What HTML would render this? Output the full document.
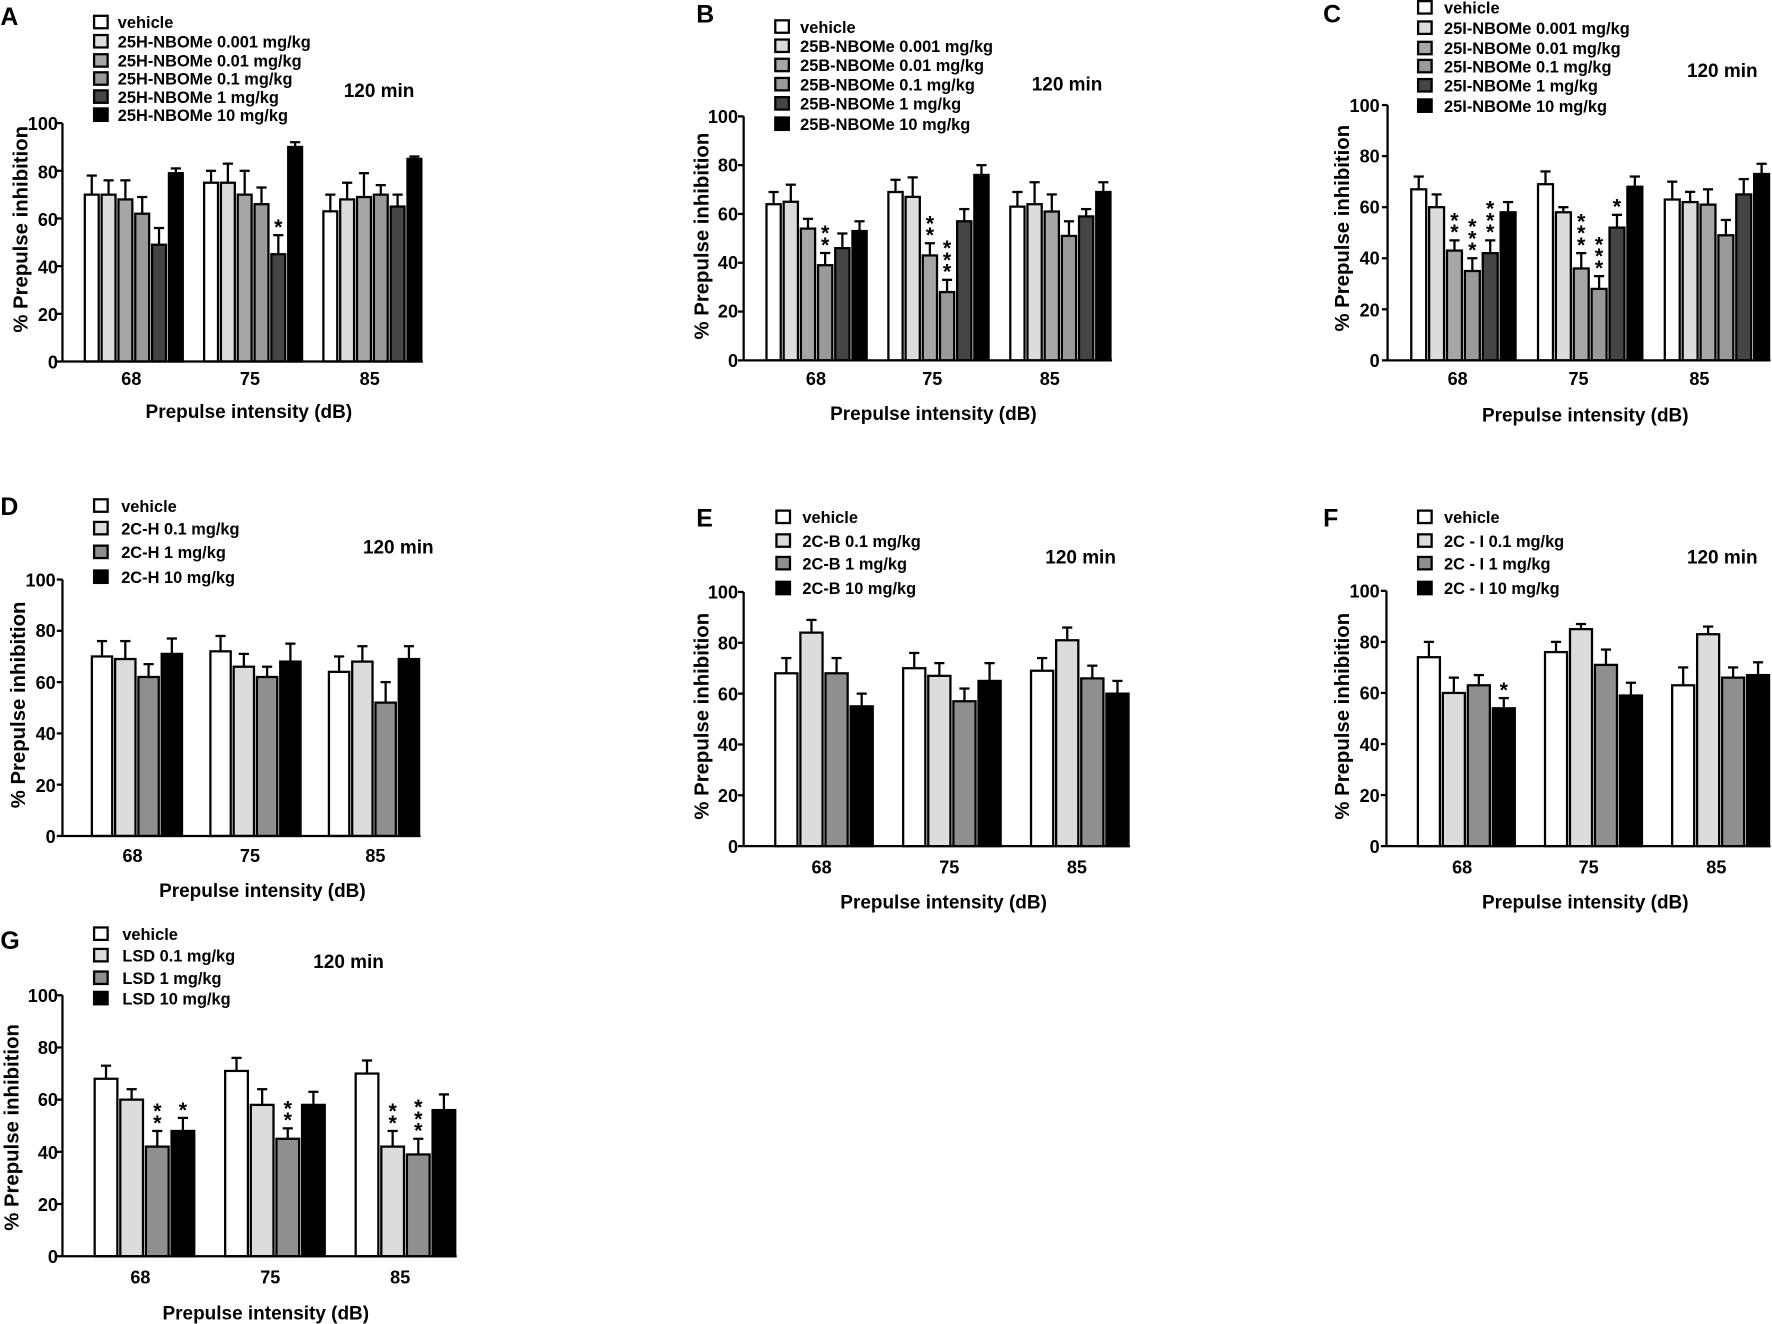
<!DOCTYPE html>
<html><head><meta charset="utf-8"><style>
html,body{margin:0;padding:0;background:#fff;}
svg{display:block;}
text{font-family:"Liberation Sans",Arial,sans-serif;font-weight:bold;fill:#000;}
.lg{font-size:14.5px;}
.tk{font-size:16px;}
.tl{font-size:16.8px;}
.yt{font-size:18px;}
.pl{font-size:22px;}
.st{font-size:19px;}
</style></head><body>
<svg id="s" width="1772" height="1324" viewBox="0 0 1568 1172" xmlns="http://www.w3.org/2000/svg">
<rect width="1568" height="1172" fill="#fff"/>
<g id="bars"></g>
<!-- Panel A -->
<text class="pl" x="0" y="22">A</text>
<g class="lg"><text x="104" y="25">vehicle</text><text x="104" y="42">25H-NBOMe 0.001 mg/kg</text><text x="104" y="59">25H-NBOMe 0.01 mg/kg</text><text x="104" y="75">25H-NBOMe 0.1 mg/kg</text><text x="104" y="91">25H-NBOMe 1 mg/kg</text><text x="104" y="107">25H-NBOMe 10 mg/kg</text></g>
<text class="tl" x="304" y="86">120 min</text>
<text class="yt" transform="translate(24,203) rotate(-90)" text-anchor="middle">% Prepulse inhibition</text>
<text class="tl" x="220" y="370" text-anchor="middle">Prepulse intensity (dB)</text>
<!-- Panel B -->
<text class="pl" x="616" y="20">B</text>
<g class="lg"><text x="708" y="29">vehicle</text><text x="708" y="46">25B-NBOMe 0.001 mg/kg</text><text x="708" y="63">25B-NBOMe 0.01 mg/kg</text><text x="708" y="80">25B-NBOMe 0.1 mg/kg</text><text x="708" y="97">25B-NBOMe 1 mg/kg</text><text x="708" y="115">25B-NBOMe 10 mg/kg</text></g>
<text class="tl" x="913" y="80">120 min</text>
<text class="yt" transform="translate(627,209) rotate(-90)" text-anchor="middle">% Prepulse inhibition</text>
<text class="tl" x="826" y="372" text-anchor="middle">Prepulse intensity (dB)</text>
<!-- Panel C -->
<text class="pl" x="1171" y="20">C</text>
<g class="lg"><text x="1278" y="12">vehicle</text><text x="1278" y="30">25I-NBOMe 0.001 mg/kg</text><text x="1278" y="48">25I-NBOMe 0.01 mg/kg</text><text x="1278" y="64">25I-NBOMe 0.1 mg/kg</text><text x="1278" y="81">25I-NBOMe 1 mg/kg</text><text x="1278" y="99">25I-NBOMe 10 mg/kg</text></g>
<text class="tl" x="1493" y="68">120 min</text>
<text class="yt" transform="translate(1194,202) rotate(-90)" text-anchor="middle">% Prepulse inhibition</text>
<text class="tl" x="1403" y="373" text-anchor="middle">Prepulse intensity (dB)</text>
<!-- Panel D -->
<text class="pl" x="0" y="456">D</text>
<g class="lg"><text x="107" y="453">vehicle</text><text x="107" y="473">2C-H 0.1 mg/kg</text><text x="107" y="494">2C-H 1 mg/kg</text><text x="107" y="516">2C-H 10 mg/kg</text></g>
<text class="tl" x="321" y="490">120 min</text>
<text class="yt" transform="translate(22,624) rotate(-90)" text-anchor="middle">% Prepulse inhibition</text>
<text class="tl" x="232" y="794" text-anchor="middle">Prepulse intensity (dB)</text>
<!-- Panel E -->
<text class="pl" x="616" y="466">E</text>
<g class="lg"><text x="710" y="463">vehicle</text><text x="710" y="484">2C-B 0.1 mg/kg</text><text x="710" y="504">2C-B 1 mg/kg</text><text x="710" y="526">2C-B 10 mg/kg</text></g>
<text class="tl" x="925" y="499">120 min</text>
<text class="yt" transform="translate(627,634) rotate(-90)" text-anchor="middle">% Prepulse inhibition</text>
<text class="tl" x="835" y="804" text-anchor="middle">Prepulse intensity (dB)</text>
<!-- Panel F -->
<text class="pl" x="1171" y="466">F</text>
<g class="lg"><text x="1278" y="463">vehicle</text><text x="1278" y="484">2C - I 0.1 mg/kg</text><text x="1278" y="504">2C - I 1 mg/kg</text><text x="1278" y="526">2C - I 10 mg/kg</text></g>
<text class="tl" x="1493" y="499">120 min</text>
<text class="yt" transform="translate(1194,634) rotate(-90)" text-anchor="middle">% Prepulse inhibition</text>
<text class="tl" x="1403" y="804" text-anchor="middle">Prepulse intensity (dB)</text>
<!-- Panel G -->
<text class="pl" x="0" y="840">G</text>
<g class="lg"><text x="108" y="832">vehicle</text><text x="108" y="851">LSD 0.1 mg/kg</text><text x="108" y="871">LSD 1 mg/kg</text><text x="108" y="889">LSD 10 mg/kg</text></g>
<text class="tl" x="277" y="857">120 min</text>
<text class="yt" transform="translate(16,998) rotate(-90)" text-anchor="middle">% Prepulse inhibition</text>
<text class="tl" x="235" y="1168" text-anchor="middle">Prepulse intensity (dB)</text>
<!-- tick labels -->
<g class="tk" text-anchor="end" id="ticks">
<text x="51" y="115">100</text><text x="51" y="158">80</text><text x="51" y="200">60</text><text x="51" y="242">40</text><text x="51" y="284">20</text><text x="51" y="326">0</text>
<text x="653" y="109">100</text><text x="653" y="152">80</text><text x="653" y="195">60</text><text x="653" y="238">40</text><text x="653" y="281">20</text><text x="653" y="325">0</text>
<text x="1221" y="99">100</text><text x="1221" y="144">80</text><text x="1221" y="189">60</text><text x="1221" y="234">40</text><text x="1221" y="280">20</text><text x="1221" y="325">0</text>
<text x="49" y="519">100</text><text x="49" y="564">80</text><text x="49" y="610">60</text><text x="49" y="655">40</text><text x="49" y="701">20</text><text x="49" y="746">0</text>
<text x="653" y="530">100</text><text x="653" y="575">80</text><text x="653" y="620">60</text><text x="653" y="665">40</text><text x="653" y="710">20</text><text x="653" y="755">0</text>
<text x="1221" y="529">100</text><text x="1221" y="574">80</text><text x="1221" y="619">60</text><text x="1221" y="665">40</text><text x="1221" y="710">20</text><text x="1221" y="755">0</text>
<text x="51" y="887">100</text><text x="51" y="933">80</text><text x="51" y="979">60</text><text x="51" y="1026">40</text><text x="51" y="1072">20</text><text x="51" y="1118">0</text>
</g>
<g class="tk" text-anchor="middle">
<text x="116" y="341">68</text><text x="221" y="341">75</text><text x="327" y="341">85</text>
<text x="722" y="341">68</text><text x="825" y="341">75</text><text x="929" y="341">85</text>
<text x="1290" y="341">68</text><text x="1397" y="341">75</text><text x="1504" y="341">85</text>
<text x="117" y="763">68</text><text x="221" y="763">75</text><text x="332" y="763">85</text>
<text x="727" y="773">68</text><text x="840" y="773">75</text><text x="953" y="773">85</text>
<text x="1294" y="773">68</text><text x="1406" y="773">75</text><text x="1519" y="773">85</text>
<text x="124" y="1136">68</text><text x="239" y="1136">75</text><text x="354" y="1136">85</text>
</g>
<g class="st" text-anchor="middle" id="stars"></g>
</svg>
<script>
var NS="http://www.w3.org/2000/svg";
var bars=document.getElementById('bars'), stars=document.getElementById('stars');
function el(t,a,p){var e=document.createElementNS(NS,t);for(var k in a)e.setAttribute(k,a[k]);(p||bars).appendChild(e);return e;}
var C6=['#fff','#dcdcdc','#a6a6a6','#999','#454545','#000'];
var C4=['#fff','#dcdcdc','#8f8f8f','#000'];
function panel(p){
  var n=p.d[0].length, span=p.xr-p.ax, gw=(n==6?0.28:0.26), gs=0.331, st=1-gw-2*gs;
  var slot=gw*span/n, bw=slot-2.6, sc=(p.y0-p.y100)/100, cols=n==6?C6:C4;
  for(var g=0;g<3;g++){
    var gx=p.ax+(st+g*gs)*span;
    for(var i=0;i<n;i++){
      var v=p.d[g][i], e=p.e[g][i], x=gx+i*slot+1.3, top=p.y0-v*sc, et=p.y0-e*sc, cx=x+bw/2;
      el('line',{x1:cx,y1:top,x2:cx,y2:et,stroke:'#000','stroke-width':2});
      el('line',{x1:cx-4.5,y1:et,x2:cx+4.5,y2:et,stroke:'#000','stroke-width':2});
      el('rect',{x:x,y:top,width:bw,height:p.y0-top,fill:cols[i],stroke:'#000','stroke-width':2});
      var s=(p.s&&p.s[g]&&p.s[g][i])||0;
      for(var k=0;k<s;k++){var t=el('text',{x:cx,y:et-1-k*10.5},stars);t.textContent='*';}
    }
  }
  el('line',{x1:p.ax,y1:p.y100,x2:p.ax,y2:p.y0,stroke:'#000','stroke-width':2});
  el('line',{x1:p.ax,y1:p.y0,x2:p.xr,y2:p.y0,stroke:'#000','stroke-width':2});
  for(var j=0;j<=5;j++){var yy=p.y0-(p.y0-p.y100)*j/5;el('line',{x1:p.ax-5,y1:yy,x2:p.ax,y2:yy,stroke:'#000','stroke-width':2});}
}
panel({ax:55,xr:374,y0:320,y100:109,
 d:[[70,70,68,62,49,79],[75,75,70,66,45,90],[63,68,69,70,65,85]],
 e:[[78,76,76,69,56,81],[80,83,80,73,53,92],[70,75,79,74,70,86]],
 s:[[],[0,0,0,0,1,0],[]]});
panel({ax:658,xr:984,y0:319,y100:103,
 d:[[64,65,54,39,46,53],[69,67,43,28,57,76],[63,64,61,51,59,69]],
 e:[[69,72,58,44,52,57],[74,75,48,33,62,80],[69,73,68,57,62,73]],
 s:[[0,0,0,2,0,0],[0,0,2,3,0,0],[]]});
panel({ax:1228,xr:1567,y0:319,y100:93,
 d:[[67,60,43,35,42,58],[69,58,36,28,52,68],[63,62,61,49,65,73]],
 e:[[72,65,47,40,47,62],[74,60,42,33,57,72],[70,66,67,55,71,77]],
 s:[[0,0,2,3,3,0],[0,0,3,3,1,0],[]]});
panel({ax:55,xr:372,y0:740,y100:513,
 d:[[70,69,62,71],[72,66,62,68],[64,68,52,69]],
 e:[[76,76,67,77],[78,71,66,75],[70,74,60,74]]});
panel({ax:658,xr:1000,y0:749,y100:524,
 d:[[68,84,68,55],[70,67,57,65],[69,81,66,60]],
 e:[[74,89,74,60],[76,72,62,72],[74,86,71,65]]});
panel({ax:1227,xr:1567,y0:749,y100:523,
 d:[[74,60,63,54],[76,85,71,59],[63,83,66,67]],
 e:[[80,66,67,58],[80,87,77,64],[70,86,70,72]],
 s:[[0,0,0,1],[],[]]});
panel({ax:55,xr:404,y0:1112,y100:881,
 d:[[68,60,42,48],[71,58,45,58],[70,42,39,56]],
 e:[[73,64,48,53],[76,64,49,63],[75,48,45,62]],
 s:[[0,0,2,1],[0,0,2,0],[0,2,3,0]]});
function leg(x,ys,cols){for(var i=0;i<ys.length;i++)el('rect',{x:x,y:ys[i]-6,width:12,height:11,fill:cols[i],stroke:'#000','stroke-width':2});}
leg(83,[20,37,54,70,86,102],C6);
leg(686,[24,41,58,75,92,110],C6);
leg(1255,[7,25,43,59,76,94],C6);
leg(83,[448,468,489,511],C4);
leg(687,[458,479,499,521],C4);
leg(1255,[458,479,499,521],C4);
leg(83,[827,846,866,884],C4);
</script>
</body></html>
